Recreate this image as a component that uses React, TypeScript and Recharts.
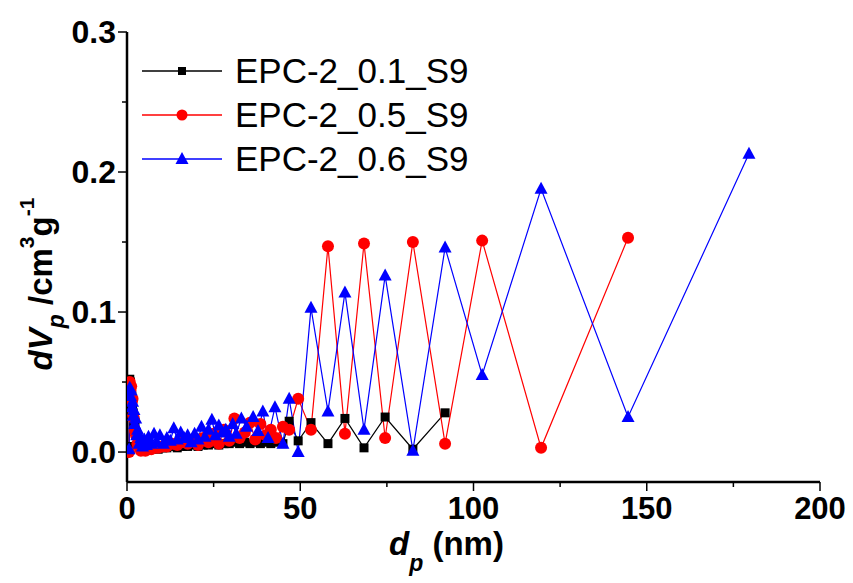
import React from 'react';
import { LineChart, Line, XAxis, YAxis, Legend } from 'recharts';

// ---------- data ----------
const seriesNames = ['EPC-2_0.1_S9', 'EPC-2_0.5_S9', 'EPC-2_0.6_S9'];
const seriesColors = ['#000000', '#ff0000', '#0000ff'];

const blackX = [0.6,0.8,1.0,1.2,1.4,1.6,1.8,2.0,2.3,2.6,3.0,3.5,4.0,4.6,5.3,6.1,7.0,8.0,9.0,10.2,11.5,13.0,14.5,16.0,17.5,19.0,20.5,22.0,23.5,25.0,26.5,28.0,29.5,31.0,32.5,34.0,35.5,37.0,38.5,40.0,41.5,43.0,45.0,46.8,49.4,53.1,58.0,62.9,68.4,74.5,82.5,91.8];
const blackY = [0.004,0.052,0.050,0.046,0.040,0.034,0.028,0.022,0.018,0.014,0.010,0.007,0.005,0.004,0.003,0.003,0.002,0.003,0.002,0.003,0.003,0.004,0.003,0.004,0.004,0.005,0.004,0.005,0.005,0.006,0.005,0.006,0.006,0.007,0.006,0.007,0.006,0.007,0.006,0.007,0.006,0.007,0.006,0.022,0.008,0.021,0.006,0.024,0.003,0.025,0.002,0.028];

const redX = [0.6,0.8,1.0,1.2,1.4,1.6,1.8,2.0,2.3,2.6,3.0,3.5,4.0,4.6,5.3,6.1,7.0,8.0,9.0,10.2,11.5,13.0,14.5,16.0,17.5,19.0,20.5,22.0,23.5,25.0,26.5,28.0,29.5,31.0,32.5,34.0,35.5,37.0,38.5,40.0,41.5,43.0,45.0,46.8,49.4,53.1,58.0,62.9,68.4,74.5,82.5,91.8,102.5,119.5,144.6];
const redY = [0.000,0.050,0.044,0.047,0.036,0.038,0.026,0.024,0.015,0.012,0.006,0.004,0.001,0.002,0.001,0.002,0.002,0.003,0.003,0.004,0.004,0.006,0.005,0.007,0.006,0.009,0.005,0.010,0.007,0.013,0.006,0.016,0.008,0.024,0.010,0.014,0.021,0.009,0.020,0.012,0.016,0.010,0.018,0.016,0.038,0.016,0.147,0.013,0.149,0.010,0.150,0.006,0.151,0.003,0.153];

const blueX = [0.6,0.8,1.0,1.2,1.4,1.6,1.8,2.0,2.2,2.5,2.8,3.1,3.5,4.0,4.5,5.0,5.6,6.2,7.0,7.8,8.6,9.5,10.5,11.5,12.5,13.5,14.5,15.5,16.5,17.5,18.5,19.5,20.5,21.5,22.5,23.5,24.5,25.5,26.5,27.5,28.5,29.5,30.5,31.5,33.0,34.5,36.4,37.8,39.2,40.7,42.7,45.0,46.8,49.4,53.1,58.0,62.9,68.4,74.5,82.5,91.8,102.5,119.5,144.6,179.5];
const blueY = [0.002,0.046,0.040,0.044,0.032,0.036,0.026,0.030,0.020,0.024,0.012,0.016,0.006,0.010,0.004,0.009,0.005,0.011,0.006,0.013,0.007,0.012,0.006,0.010,0.008,0.017,0.009,0.014,0.010,0.012,0.007,0.013,0.009,0.018,0.011,0.016,0.023,0.012,0.019,0.014,0.016,0.011,0.020,0.013,0.024,0.018,0.025,0.015,0.029,0.010,0.032,0.006,0.038,0.000,0.103,0.029,0.114,0.016,0.126,0.001,0.146,0.055,0.188,0.025,0.213];

const xTicks = [0, 25, 50, 75, 100, 125, 150, 175, 200];
const yTicks = [0, 0.05, 0.1, 0.15, 0.2, 0.25, 0.3];

const zip = (xs: number[], ys: number[]) => xs.map((x, i) => ({ x, y: ys[i] }));
const blackData = zip(blackX, blackY);
const redData = zip(redX, redY);
const blueData = zip(blueX, blueY);

// ---------- styling helpers ----------
const FONT = "'Liberation Sans', Arial, Helvetica, sans-serif";
const isMajorX = (v: number) => v % 50 === 0;
const isMajorY = (v: number) => Math.abs(v * 10 - Math.round(v * 10)) < 1e-6;

const BottomTick = (p: any) => {
  const v = p.payload.value;
  const major = isMajorX(v);
  return (
    <g>
      <line x1={p.x} x2={p.x} y1={p.y} y2={p.y + (major ? 9 : 5)} stroke="#000" strokeWidth={1.5} />
      {major && (
        <text x={p.x} y={p.y + 37} textAnchor="middle" fontFamily={FONT} fontSize={31} fontWeight="bold" fill="#000">
          {v}
        </text>
      )}
    </g>
  );
};
const TopTick = (p: any) => {
  const major = isMajorX(p.payload.value);
  return <line x1={p.x} x2={p.x} y1={p.y} y2={p.y + (major ? 9 : 5)} stroke="#000" strokeWidth={1.5} />;
};
const LeftTick = (p: any) => {
  const v = p.payload.value;
  const major = isMajorY(v);
  return (
    <g>
      <line x1={p.x - (major ? 9 : 5)} x2={p.x} y1={p.y} y2={p.y} stroke="#000" strokeWidth={1.5} />
      {major && (
        <text x={p.x - 11} y={p.y + 11} textAnchor="end" fontFamily={FONT} fontSize={32} fontWeight="bold" fill="#000">
          {v.toFixed(1)}
        </text>
      )}
    </g>
  );
};
const RightTick = (p: any) => {
  const major = isMajorY(p.payload.value);
  return <line x1={p.x - (major ? 9 : 5)} x2={p.x} y1={p.y} y2={p.y} stroke="#000" strokeWidth={1.5} />;
};

const SquareDot = (p: any) =>
  p.cx == null ? <g key={p.key} /> : <rect key={p.key} x={p.cx - 4.5} y={p.cy - 4.5} width={9} height={9} fill="#000" />;
const CircleDot = (p: any) =>
  p.cx == null ? <g key={p.key} /> : <circle key={p.key} cx={p.cx} cy={p.cy} r={6} fill="#ff0000" />;
const TriDot = (p: any) =>
  p.cx == null ? (
    <g key={p.key} />
  ) : (
    <polygon
      key={p.key}
      points={`${p.cx},${p.cy - 7} ${p.cx - 6.5},${p.cy + 5} ${p.cx + 6.5},${p.cy + 5}`}
      fill="#0000ff"
    />
  );

const XTitle = (p: any) => {
  const vb = p.viewBox;
  const cx = vb.x + vb.width / 2 - 27;
  const y = vb.y + 73;
  return (
    <text x={cx} y={y} textAnchor="middle" fontFamily={FONT} fontSize={33} fontWeight="bold" fill="#000">
      <tspan fontStyle="italic">d</tspan>
      <tspan fontStyle="italic" fontSize={23} dy={16}>p</tspan>
      <tspan dy={-16}> (nm)</tspan>
    </text>
  );
};

const YTitle = (p: any) => {
  const vb = p.viewBox;
  const x = 52;
  const cy = vb.y + vb.height / 2 + 27;
  return (
    <text
      x={x}
      y={cy}
      transform={`rotate(-90 ${x} ${cy})`}
      textAnchor="middle"
      fontFamily={FONT}
      fontSize={33}
      fontWeight="bold"
      fill="#000"
    >
      <tspan fontStyle="italic">dV</tspan>
      <tspan fontStyle="italic" fontSize={23} dy={12}>p</tspan>
      <tspan dy={-12}> /cm</tspan>
      <tspan fontSize={21} dy={-18}>3</tspan>
      <tspan dy={18}>g</tspan>
      <tspan fontSize={21} dy={-18}>-1</tspan>
    </text>
  );
};

const legendMarkers = [
  (cx: number, cy: number) => <rect x={cx - 4} y={cy - 4} width={8} height={8} fill="#000" />,
  (cx: number, cy: number) => <circle cx={cx} cy={cy} r={5.5} fill="#ff0000" />,
  (cx: number, cy: number) => (
    <polygon points={`${cx},${cy - 7} ${cx - 6.5},${cy + 5} ${cx + 6.5},${cy + 5}`} fill="#0000ff" />
  ),
];

const LegendBox = () => (
  <svg width={360} height={135} style={{ display: 'block', overflow: 'visible' }}>
    {seriesNames.map((name, i) => {
      const cy = 21 + i * 44;
      return (
        <g key={name}>
          <line x1={2} x2={82} y1={cy} y2={cy} stroke={seriesColors[i]} strokeWidth={1.3} />
          {legendMarkers[i](42, cy)}
          <text x={95} y={cy + 12} fontFamily={FONT} fontSize={35} fill="#000">
            {name}
          </text>
        </g>
      );
    })}
  </svg>
);

export default function App() {
  return (
    <div style={{ position: 'absolute', left: 0, top: 0, background: '#fff' }}>
      <LineChart width={853} height={583} margin={{ top: 32, right: 33, bottom: 0, left: 0 }}>
        <XAxis
          xAxisId="b"
          type="number"
          dataKey="x"
          domain={[0, 200]}
          ticks={xTicks}
          interval={0}
          allowDataOverflow
          height={101}
          tickSize={0}
          tickMargin={0}
          tickLine={false}
          axisLine={{ stroke: '#000', strokeWidth: 2.5 }}
          tick={BottomTick}
          label={{ content: XTitle }}
        />
        <XAxis
          xAxisId="t"
          orientation="top"
          type="number"
          dataKey="x"
          domain={[0, 200]}
          ticks={xTicks}
          interval={0}
          allowDataOverflow
          height={0}
          tickSize={0}
          tickMargin={0}
          tickLine={false}
          axisLine={{ stroke: '#000', strokeWidth: 2.5 }}
          tick={TopTick}
        />
        <YAxis
          yAxisId="l"
          type="number"
          domain={[-0.0214, 0.3]}
          ticks={yTicks}
          interval={0}
          allowDataOverflow
          width={127}
          tickSize={0}
          tickMargin={0}
          tickLine={false}
          axisLine={{ stroke: '#000', strokeWidth: 2.5 }}
          tick={LeftTick}
          label={{ content: YTitle }}
        />
        <YAxis
          yAxisId="r"
          orientation="right"
          type="number"
          domain={[-0.0214, 0.3]}
          ticks={yTicks}
          interval={0}
          allowDataOverflow
          width={0}
          tickSize={0}
          tickMargin={0}
          tickLine={false}
          axisLine={{ stroke: '#000', strokeWidth: 2.5 }}
          tick={RightTick}
        />
        <Legend
          layout="vertical"
          align="center"
          verticalAlign="middle"
          wrapperStyle={{ position: 'absolute', left: 140, top: 50, width: 360, height: 135 }}
          content={() => <LegendBox />}
        />
        <Line
          xAxisId="b"
          yAxisId="l"
          data={blackData}
          dataKey="y"
          name={seriesNames[0]}
          type="linear"
          stroke={seriesColors[0]}
          strokeWidth={1.2}
          dot={SquareDot}
          activeDot={false}
          isAnimationActive={false}
        />
        <Line
          xAxisId="b"
          yAxisId="l"
          data={redData}
          dataKey="y"
          name={seriesNames[1]}
          type="linear"
          stroke={seriesColors[1]}
          strokeWidth={1.2}
          dot={CircleDot}
          activeDot={false}
          isAnimationActive={false}
        />
        <Line
          xAxisId="b"
          yAxisId="l"
          data={blueData}
          dataKey="y"
          name={seriesNames[2]}
          type="linear"
          stroke={seriesColors[2]}
          strokeWidth={1.2}
          dot={TriDot}
          activeDot={false}
          isAnimationActive={false}
        />
      </LineChart>
    </div>
  );
}
